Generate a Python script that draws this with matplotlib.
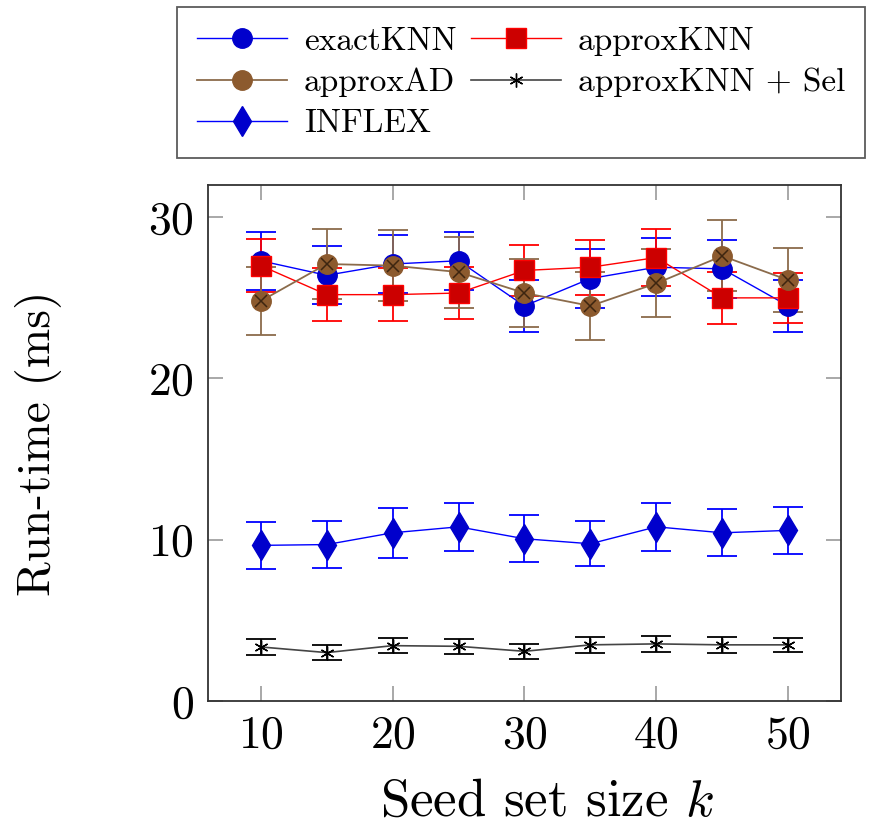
import matplotlib
matplotlib.use("Agg")
import matplotlib.pyplot as plt
from matplotlib.lines import Line2D

plt.rcParams['font.family'] = 'serif'
plt.rcParams['font.serif'] = ['cmr10', 'DejaVu Serif']
plt.rcParams['mathtext.fontset'] = 'cm'
plt.rcParams['axes.formatter.use_mathtext'] = True

# donnees
k = [10, 15, 20, 25, 30, 35, 40, 45, 50]
exact_knn = [27.3, 26.4, 27.1, 27.3, 24.5, 26.2, 26.9, 26.8, 24.5]
exact_knn_err = [1.8, 1.8, 1.8, 1.8, 1.6, 1.8, 1.8, 1.8, 1.6]
approx_knn = [27.0, 25.2, 25.2, 25.3, 26.7, 26.9, 27.5, 25.0, 25.0]
approx_knn_err = [1.65, 1.65, 1.65, 1.6, 1.6, 1.7, 1.75, 1.6, 1.55]
approx_ad = [24.8, 27.1, 27.0, 26.6, 25.3, 24.5, 25.9, 27.6, 26.1]
approx_ad_err = [2.1, 2.2, 2.2, 2.2, 2.1, 2.1, 2.1, 2.2, 2.0]
inflex = [9.65, 9.7, 10.43, 10.8, 10.06, 9.75, 10.8, 10.43, 10.58]
inflex_err = [1.45, 1.45, 1.55, 1.5, 1.45, 1.4, 1.5, 1.45, 1.48]
sel = [3.35, 3.0, 3.43, 3.39, 3.08, 3.48, 3.54, 3.48, 3.48]
sel_err = [0.48, 0.45, 0.48, 0.45, 0.45, 0.48, 0.48, 0.48, 0.45]

blue_fill = '#0000cc'
red_fill = '#cc0000'
brown_line = '#8b6b4b'
brown_fill = '#8c5a2e'
brown_cross = '#3d2510'

fig = plt.figure(figsize=(8.75, 8.27), dpi=100)
ax = fig.add_axes([0.2377, 0.1524, 0.7234, 0.6239])

eb = dict(capsize=11, elinewidth=1.3, capthick=1.3)

ax.errorbar(k, exact_knn, yerr=exact_knn_err, color='blue', lw=1, marker='o', ms=14,
            mfc=blue_fill, mec=blue_fill, ecolor='blue', **eb)
ax.errorbar(k, approx_knn, yerr=approx_knn_err, color='red', lw=1, marker='s', ms=14,
            mfc=red_fill, mec='red', ecolor='red', **eb)
ax.errorbar(k, approx_ad, yerr=approx_ad_err, color=brown_line, lw=1.3, marker='o', ms=14,
            mfc=brown_fill, mec=brown_fill, ecolor=brown_line, **eb)
# motif croise des cercles marron
ax.plot(k, approx_ad, ls='none', marker='x', ms=9, mew=1.1, color=brown_cross, zorder=3)
ax.errorbar(k, inflex, yerr=inflex_err, color='blue', lw=1, marker='d', ms=15,
            mfc=blue_fill, mec=blue_fill, ecolor='blue', **eb)
ax.errorbar(k, sel, yerr=sel_err, color='#444444', lw=1.2, marker=(6, 2, 0), ms=10,
            mec='black', ecolor='black', **eb)

ax.set_xlim(6, 54)
ax.set_ylim(0, 32)
ax.set_xticks([10, 20, 30, 40, 50])
ax.set_yticks([0, 10, 20, 30])
ax.tick_params(direction='in', length=11, width=1.2, color='#999999', labelsize=33,
               top=True, right=True, pad=10)
for s in ax.spines.values():
    s.set_linewidth(1.3)
    s.set_color('#333333')

ax.set_xlabel('Seed set size $k$', fontsize=38, labelpad=16)
ax.xaxis.label.set_x(0.535)
ax.set_ylabel('Run-time (ms)', fontsize=34, labelpad=62)

handles = [
    Line2D([], [], color='blue', lw=1, marker='o', ms=14, mfc=blue_fill, mec=blue_fill),
    Line2D([], [], color=brown_line, lw=1.3, marker='o', ms=14, mfc=brown_fill, mec=brown_fill),
    Line2D([], [], color='blue', lw=1, marker='d', ms=15, mfc=blue_fill, mec=blue_fill),
    Line2D([], [], color='red', lw=1, marker='s', ms=14, mfc=red_fill, mec='red'),
    Line2D([], [], color='#444444', lw=1.2, marker=(6, 2, 0), ms=10, mec='black'),
]
labels = ['exactKNN', 'approxAD', 'INFLEX', 'approxKNN', 'approxKNN + Sel']
leg = ax.legend(handles, labels, ncol=2, loc='lower left',
                bbox_to_anchor=(-0.049, 1.052, 1.087, 0.303), mode='expand',
                fontsize=24, frameon=True, fancybox=False, edgecolor='#333333',
                handlelength=2.7, borderaxespad=0, borderpad=0.6, labelspacing=0.35,
                columnspacing=0.8, handletextpad=0.5)
leg.get_frame().set_linewidth(1.3)

fig.savefig('out.png', dpi=100)
